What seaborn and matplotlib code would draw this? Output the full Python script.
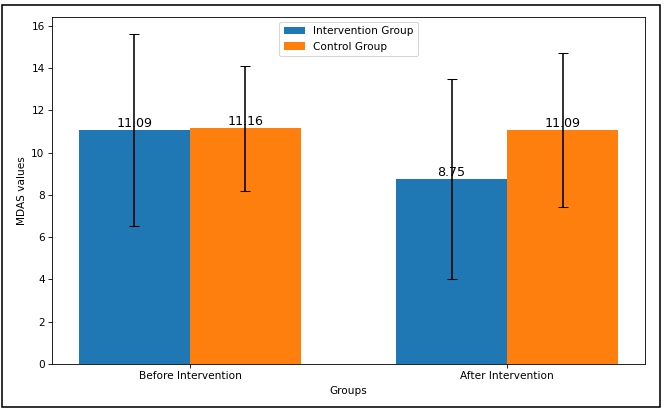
import numpy as np
import pandas as pd
import matplotlib
matplotlib.use("Agg")
import matplotlib.pyplot as plt
from matplotlib.patches import Rectangle
import seaborn as sns

groups = ["Before Intervention", "After Intervention"]
series = ["Intervention Group", "Control Group"]
intervention_means = [11.09, 8.75]
control_means = [11.16, 11.09]
intervention_sd = [4.55, 4.74]
control_sd = [2.95, 3.64]

df = pd.DataFrame({
    "Groups": groups * 2,
    "Group": [series[0]] * 2 + [series[1]] * 2,
    "MDAS": intervention_means + control_means,
})
sds = intervention_sd + control_sd

DPI = 75.6
fig = plt.figure(figsize=(666 / DPI, 409 / DPI), dpi=DPI)
ax = fig.add_axes([52 / 666, 45 / 409, 593 / 666, 347 / 409])

sns.barplot(data=df, x="Groups", y="MDAS", hue="Group", order=groups,
            hue_order=series, palette=["#1f77b4", "#ff7f0e"], width=0.7,
            errorbar=None, linewidth=0, saturation=1, ax=ax)

# error bars at the centre of each bar
xs, hs = [], []
for cont in ax.containers:
    for p in cont:
        xs.append(p.get_x() + p.get_width() / 2)
        hs.append(p.get_height())
ax.errorbar(xs, hs, yerr=sds, fmt="none", ecolor="black", capsize=5)

for cont in ax.containers:
    if hasattr(cont, "patches"):
        ax.bar_label(cont, fmt="%.2f", fontsize=12)

ax.autoscale(axis="x")
ax.margins(x=0.05)
ax.set_xlabel("Groups")
ax.set_ylabel("MDAS values")
sns.move_legend(ax, "upper center", title=None)

fig.add_artist(Rectangle((1.5 / 666, 2 / 409), 658.5 / 666, 402 / 409,
                         transform=fig.transFigure, fill=False,
                         edgecolor="black", linewidth=1.5))

fig.savefig("out.png", dpi=DPI)
